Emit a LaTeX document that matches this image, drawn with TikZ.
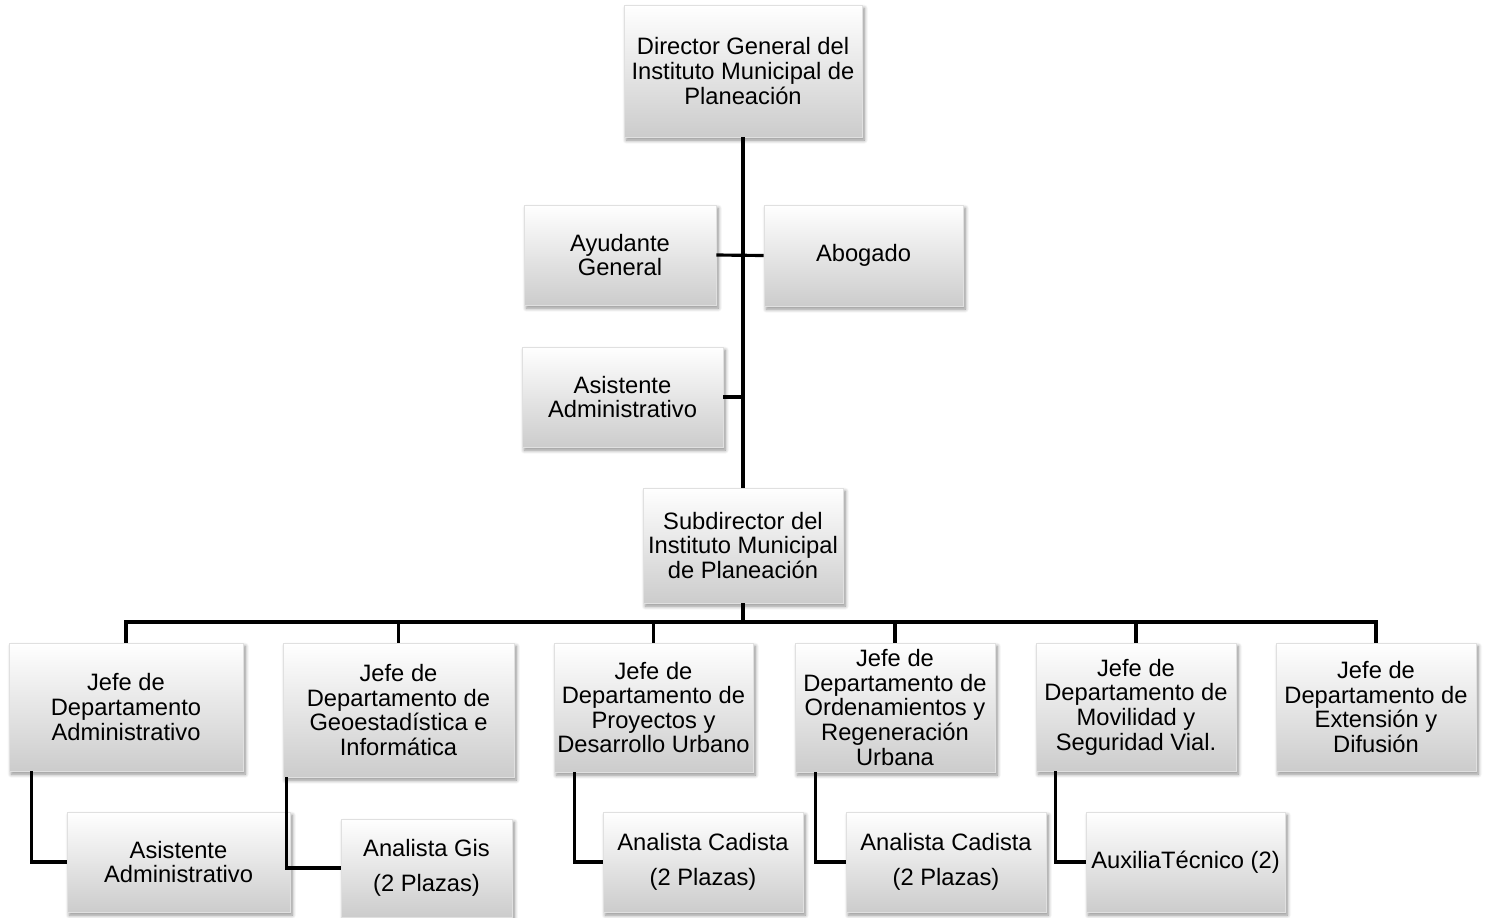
\documentclass[tikz,border=0pt]{standalone}
\usepackage{fontspec}
\setmainfont{Liberation Sans}
\usepackage{tikz}
\usetikzlibrary{calc,shadows.blur}

\tikzset{
        cargo/.style={draw=black!12, line width=0.4pt, top color=white, middle color=black!2, bottom color=black!20,
                blur shadow={shadow xshift=1.3pt, shadow yshift=-1.8pt, shadow blur steps=6, shadow opacity=45},
                align=center, inner sep=1pt, font=\fontsize{13.5}{14}\selectfont},
        linea/.style={line width=1.8pt}
}

\begin{document}
\begin{tikzpicture}[x=0.02cm,y=-0.02cm]
        \useasboundingbox (0,0) rectangle (1488,917);

        \node[cargo, minimum width=4.76cm, minimum height=2.64cm] (dir) at (743,71) {Director General del\\Instituto Municipal de\\Planeación};
        \node[cargo, minimum width=3.84cm, minimum height=2.0cm] (ayu) at (620,255) {Ayudante\\General};
        \node[cargo, minimum width=3.98cm, minimum height=2.02cm] (abo) at (863.5,255.5) {Abogado};
        \node[cargo, minimum width=4.02cm, minimum height=2.0cm] (asi) at (622.5,397) {Asistente\\Administrativo};
        \node[cargo, minimum width=4.0cm, minimum height=2.3cm] (sub) at (743,545.5) {Subdirector del\\Instituto Municipal\\de Planeación};

        \node[cargo, minimum width=4.68cm, minimum height=2.56cm] (jadm) at (126,707) {Jefe de\\Departamento\\Administrativo};
        \node[cargo, minimum width=4.62cm, minimum height=2.68cm] (jgeo) at (398.5,710) {Jefe de\\Departamento de\\Geoestadística e\\Informática};
        \node[cargo, minimum width=3.98cm, minimum height=2.58cm] (jpro) at (653.5,707.5) {Jefe de\\Departamento de\\Proyectos y\\Desarrollo Urbano};
        \node[cargo, minimum width=4.0cm, minimum height=2.58cm] (jord) at (895,707.5) {Jefe de\\Departamento de\\Ordenamientos y\\Regeneración\\Urbana};
        \node[cargo, minimum width=4.0cm, minimum height=2.56cm] (jmov) at (1136,707) {Jefe de\\Departamento de\\Movilidad y\\Seguridad Vial.};
        \node[cargo, minimum width=4.0cm, minimum height=2.56cm] (jext) at (1376,707) {Jefe de\\Departamento de\\Extensión y\\Difusión};

        \node[cargo, minimum width=4.46cm, minimum height=2.0cm] (asa) at (178.5,862) {Asistente\\Administrativo};
        \node[cargo, minimum width=3.42cm, minimum height=1.96cm] (agis) at (426.5,868) {Analista Gis\\[6pt](2 Plazas)};
        \node[cargo, minimum width=4.0cm, minimum height=2.0cm] (acad1) at (703,862) {Analista Cadista\\[6pt](2 Plazas)};
        \node[cargo, minimum width=4.0cm, minimum height=2.0cm] (acad2) at (946,862) {Analista Cadista\\[6pt](2 Plazas)};
        \node[cargo, minimum width=3.98cm, minimum height=2.0cm] (aux) at (1185.5,862) {AuxiliaTécnico (2)};

        \coordinate (bus) at (743,622);

        \draw[linea] (dir.south) -- (sub.north);
        \draw[linea] (ayu.east) -- (abo.west);
        \draw[linea] (asi.east) -- (asi.east -| dir.south);
        \draw[linea] (sub.south) -- (bus);
        \foreach \j in {jadm,jgeo,jpro,jord,jmov,jext}
                \draw[linea] (\j.north) |- (bus);

        \draw[linea] ($(jadm.south west)+(23,0)$) |- (asa.west);
        \draw[linea] ($(jgeo.south west)+(4,0)$) |- (agis.west);
        \draw[linea] ($(jpro.south west)+(21,0)$) |- (acad1.west);
        \draw[linea] ($(jord.south west)+(21,0)$) |- (acad2.west);
        \draw[linea] ($(jmov.south west)+(20,0)$) |- (aux.west);
\end{tikzpicture}
\end{document}
